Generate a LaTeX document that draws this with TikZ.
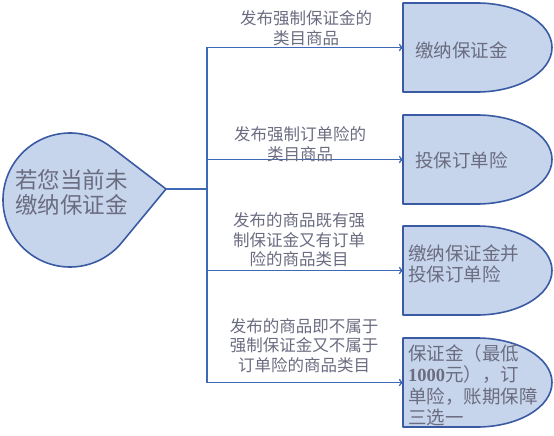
\documentclass[tikz,border=0pt]{standalone}
\usepackage{fontspec}
\usepackage{tikz}
\usetikzlibrary{positioning}
\newfontfamily\cjk{Noto Sans CJK SC}
\newfontfamily\numfont{Liberation Serif}
\definecolor{shapefill}{HTML}{C7D5EC}
\definecolor{shapeline}{HTML}{3A5BA3}
\definecolor{linkblue}{HTML}{3F69B6}
\definecolor{txtgray}{HTML}{6A6C80}

\begin{document}
\begin{tikzpicture}[x=1pt,y=-1pt,
  dbox/.style={fill=shapefill,draw=shapeline,line width=1.6pt,line join=round},
  link/.style={draw=linkblue,line width=1.6pt},
  lbl/.style={text=txtgray,align=center,inner sep=0pt,font=\cjk\fontsize{16.5}{19.5}\selectfont},
  btxt/.style={text=txtgray,align=left,inner sep=0pt,font=\cjk\fontsize{18.5}{21.5}\selectfont}]
\useasboundingbox (0,0) rectangle (554,436);
% drop on the left
\draw[dbox] (166,189) -- ([shift={(39.6:67)}]70,200) arc[start angle=39.6,end angle=307.4,radius=67] -- cycle;
\coordinate (tip) at (166,189);
\node[btxt,font=\cjk\fontsize{22.5}{25}\selectfont] (start) at (71.5,192.5) {若您当前未\\缴纳保证金};
% boxes on the right
\foreach \t/\n in {3/a,115/b,226/c,338/d}{
  \draw[dbox] (403,\t) -- (403,\t+89) -- (477,\t+89) arc[start angle=90,end angle=-90,x radius=75,y radius=44.5] -- cycle;
  \coordinate (b\n) at (207,\t+44.5);
  \coordinate (e\n) at (403,\t+44.5);
}
\node[btxt] (pay) at (461.5,50) {缴纳保证金};
\node[btxt] (ins) at (461.5,160) {投保订单险};
\node[btxt,anchor=west] (both) at (408,264) {缴纳保证金并\\投保订单险};
\node[btxt,anchor=west] (none) at (408,385.5) {保证金（最低\\{\numfont\bfseries 1000}元），订\\单险，账期保障\\三选一};
% connectors
\draw[link] (ba) -- (bd);
\draw[link] (tip) -- (tip -| ba);
\foreach \n in {a,b,c,d} \draw[link,->] (b\n) -- (e\n);
% labels
\node[lbl] (la) at (306,28) {发布强制保证金的\\类目商品};
\node[lbl] (lb) at (300,144) {发布强制订单险的\\类目商品};
\node[lbl] (lc) at (299,240) {发布的商品既有强\\制保证金又有订单\\险的商品类目};
\node[lbl] (ld) at (304,345.5) {发布的商品即不属于\\强制保证金又不属于\\订单险的商品类目};
\end{tikzpicture}
\end{document}
